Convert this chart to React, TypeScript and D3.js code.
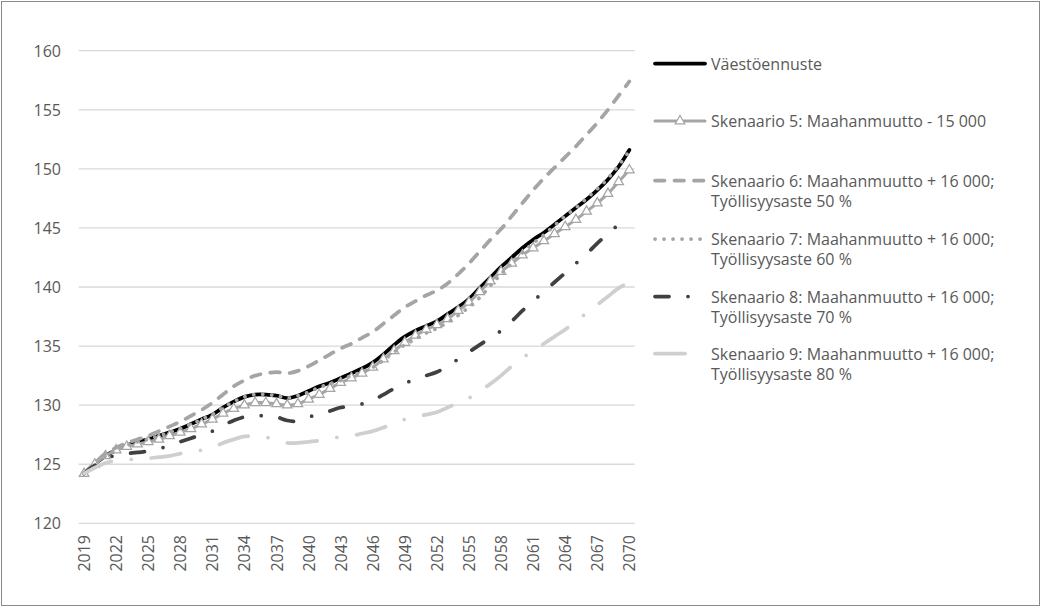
import React from "react";
import * as d3 from "d3";

const years: number[] = d3.range(2019, 2071);

const vaestoennuste = [
  124.2, 125.0, 125.7, 126.2, 126.6, 126.9, 127.1, 127.4, 127.7, 128.0,
  128.4, 128.8, 129.2, 129.8, 130.3, 130.7, 130.9, 130.9, 130.8, 130.6,
  130.8, 131.2, 131.6, 131.9, 132.3, 132.7, 133.1, 133.6, 134.3, 135.1,
  135.8, 136.3, 136.7, 137.1, 137.7, 138.3, 139.0, 139.9, 140.8, 141.7,
  142.5, 143.3, 144.0, 144.6, 145.3, 146.0, 146.7, 147.4, 148.2, 149.1,
  150.2, 151.6,
];

const skenaario5 = [
  124.2, 125.0, 125.7, 126.2, 126.5, 126.7, 126.9, 127.1, 127.4, 127.7,
  128.0, 128.4, 128.8, 129.3, 129.7, 130.0, 130.2, 130.2, 130.1, 130.0,
  130.1, 130.5, 130.9, 131.4, 131.9, 132.3, 132.7, 133.2, 133.9, 134.6,
  135.3, 135.9, 136.4, 136.8, 137.3, 138.0, 138.7, 139.6, 140.5, 141.3,
  142.0, 142.7, 143.3, 143.9, 144.5, 145.1, 145.7, 146.4, 147.1, 147.9,
  148.9, 149.9,
];

const skenaario6 = [
  124.2, 125.1, 125.9, 126.4, 126.8, 127.1, 127.4, 127.8, 128.2, 128.6,
  129.1, 129.6, 130.2, 130.9, 131.6, 132.1, 132.5, 132.7, 132.8, 132.7,
  132.9, 133.3, 133.8, 134.3, 134.8, 135.2, 135.7, 136.2, 136.9, 137.6,
  138.3, 138.8, 139.3, 139.7, 140.3, 141.1, 142.0, 143.0, 144.0, 144.9,
  146.0, 147.1, 148.2, 149.2, 150.1, 151.0, 151.9, 152.9, 153.9, 155.0,
  156.2, 157.4,
];

const skenaario7 = [
  124.2, 125.0, 125.7, 126.2, 126.6, 126.9, 127.1, 127.4, 127.7, 128.0,
  128.4, 128.8, 129.2, 129.8, 130.3, 130.7, 130.9, 130.9, 130.8, 130.6,
  130.8, 131.1, 131.5, 131.8, 132.1, 132.5, 132.8, 133.2, 133.8, 134.5,
  135.1, 135.6, 136.1, 136.5, 137.0, 137.6, 138.3, 139.1, 140.1, 141.1,
  142.0, 142.9, 143.7, 144.4, 145.2, 146.0, 146.7, 147.5, 148.3, 149.2,
  150.3, 151.5,
];

const skenaario8 = [
  124.2, 124.9, 125.4, 125.8, 125.9, 126.0, 126.1, 126.3, 126.6, 126.9,
  127.2, 127.5, 127.8, 128.3, 128.7, 129.0, 129.1, 129.1, 129.0, 128.7,
  128.65, 129.0, 129.2, 129.5, 129.8, 129.9, 130.1, 130.4, 130.9, 131.4,
  131.85, 132.2, 132.5, 132.8, 133.3, 133.9, 134.5, 135.1, 135.7, 136.3,
  137.1, 138.0, 138.8, 139.6, 140.4, 141.2, 142.0, 142.8, 143.7, 144.5,
  145.3, 146.0,
];

const skenaario9 = [
  124.2, 124.7, 125.1, 125.3, 125.4, 125.4, 125.5, 125.6, 125.7, 125.9,
  126.0, 126.2, 126.4, 126.8, 127.1, 127.35, 127.4, 127.3, 127.0, 126.8,
  126.8, 126.9, 127.0, 127.2, 127.3, 127.4, 127.6, 127.8, 128.1, 128.5,
  128.8, 129.0, 129.2, 129.4, 129.8, 130.2, 130.6, 131.2, 131.8, 132.5,
  133.3, 134.0, 134.6, 135.2, 135.8, 136.4, 137.1, 137.8, 138.5, 139.2,
  139.9, 140.4,
];

const yTicks = [120, 125, 130, 135, 140, 145, 150, 155, 160];
const xTickYears = d3.range(2019, 2071, 3);

const legendLabels: string[][] = [
  ["Väestöennuste"],
  ["Skenaario 5: Maahanmuutto - 15 000"],
  ["Skenaario 6: Maahanmuutto + 16 000;", "Työllisyysaste 50 %"],
  ["Skenaario 7: Maahanmuutto + 16 000;", "Työllisyysaste 60 %"],
  ["Skenaario 8: Maahanmuutto + 16 000;", "Työllisyysaste 70 %"],
  ["Skenaario 9: Maahanmuutto + 16 000;", "Työllisyysaste 80 %"],
];

type Style = {
  color: string;
  width: number;
  dash?: string;
  cap: "round" | "butt";
  marker?: boolean;
};

const styles: Style[] = [
  { color: "#000000", width: 3.75, cap: "round" },
  { color: "#a5a5a5", width: 3, cap: "round", marker: true },
  { color: "#a5a5a5", width: 3.75, dash: "9.5 10", cap: "round" },
  { color: "#a5a5a5", width: 3.75, dash: "0.1 8.9", cap: "round" },
  { color: "#404040", width: 3.75, dash: "14 19 0 19", cap: "round" },
  { color: "#cfcfcf", width: 3.75, dash: "30 20 0 20", cap: "round" },
];

const seriesData = [vaestoennuste, skenaario5, skenaario6, skenaario7, skenaario8, skenaario9];

const legendY = [63.5, 121, 180.5, 239, 296.5, 353.5];

const FONT = "'Open Sans', 'Noto Sans', sans-serif";
const TEXT = "#595959";

export default function App() {
  const W = 1042;
  const H = 608;
  const left = 78.7;
  const right = 634.7;
  const top = 50.7;
  const bottom = 523.3;

  const x = d3.scalePoint<number>().domain(years).range([left, right]).padding(0.5);
  const y = d3.scaleLinear().domain([120, 160]).range([bottom, top]);

  const line = d3
    .line<number>()
    .x((_, i) => x(years[i]) as number)
    .y((v) => y(v))
    .curve(d3.curveCatmullRom.alpha(0.5));

  const tri = d3.symbol().type(d3.symbolTriangle).size(40)() as string;

  return (
    <svg
      width={W}
      height={H}
      style={{ position: "absolute", left: 0, top: 0, background: "#fff" }}
      fontFamily={FONT}
    >
      <rect x={0} y={0} width={W} height={H} fill="#fff" />
      <rect x={1.5} y={1.5} width={1038} height={604} fill="none" stroke="#8a8a8a" strokeWidth={1} />

      {yTicks.map((t) => (
        <g key={t}>
          <line x1={left} x2={right} y1={y(t)} y2={y(t)} stroke="#d9d9d9" strokeWidth={1.3} />
          <text x={61} y={y(t)} textAnchor="end" dominantBaseline="central" fontSize={16} fill={TEXT}>
            {t}
          </text>
        </g>
      ))}

      {xTickYears.map((yr) => (
        <text
          key={yr}
          transform={`translate(${x(yr)},${535}) rotate(-90)`}
          textAnchor="end"
          dominantBaseline="central"
          fontSize={16}
          fill={TEXT}
        >
          {yr}
        </text>
      ))}

      {seriesData.map((d, si) => {
        const s = styles[si];
        return (
          <g key={si}>
            <path
              d={line(d) as string}
              fill="none"
              stroke={s.color}
              strokeWidth={s.width}
              strokeDasharray={s.dash}
              strokeLinecap={s.cap}
              strokeLinejoin="round"
            />
            {s.marker &&
              d.map((v, i) => (
                <path
                  key={i}
                  d={tri}
                  transform={`translate(${x(years[i])},${y(v)})`}
                  fill="#ffffff"
                  stroke={s.color}
                  strokeWidth={1.25}
                />
              ))}
          </g>
        );
      })}

      {legendLabels.map((lines, li) => {
        const s = styles[li];
        const ly = legendY[li];
        return (
          <g key={li}>
            <line
              x1={655}
              x2={705}
              y1={ly}
              y2={ly}
              stroke={s.color}
              strokeWidth={s.width}
              strokeDasharray={s.dash}
              strokeLinecap={s.cap}
            />
            {s.marker && (
              <path d={tri} transform={`translate(680,${ly})`} fill="#fff" stroke={s.color} strokeWidth={1.25} />
            )}
            {lines.map((t, k) => (
              <text
                key={k}
                x={711}
                y={ly + k * 20}
                dominantBaseline="central"
                fontSize={16}
                fill={TEXT}
              >
                {t}
              </text>
            ))}
          </g>
        );
      })}
    </svg>
  );
}
